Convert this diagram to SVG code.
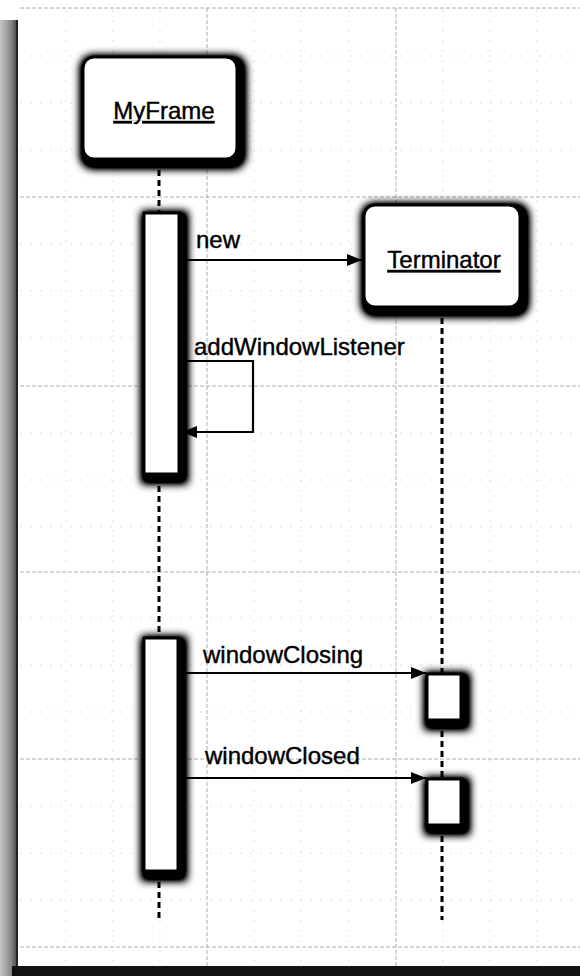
<svg xmlns="http://www.w3.org/2000/svg" width="580" height="976" viewBox="0 0 580 976">
<defs>
<style>
.major{stroke:#8c8c8c;stroke-width:1;stroke-dasharray:4 2;fill:none;opacity:.7}
.minor{stroke:#d6d6d6;stroke-width:1;stroke-dasharray:2 8;fill:none;opacity:.8}
.box{fill:#fff;stroke:#000;stroke-width:3}
.life{stroke:#000;stroke-width:3;stroke-dasharray:6 4;fill:none}
.msg{stroke:#000;stroke-width:2.2;fill:none}
.lbl{font-family:"Liberation Sans",Arial,Helvetica,sans-serif;font-size:24px;fill:#000;stroke:#000;stroke-width:0.4}
.obj{text-decoration:underline}
</style>
<filter id="sh" x="-80%" y="-40%" width="260%" height="180%">
<feMorphology in="SourceAlpha" operator="dilate" radius="4" result="d"/>
<feOffset in="d" dx="3" dy="4" result="o"/>
<feGaussianBlur in="o" stdDeviation="4" result="b"/>
<feComponentTransfer in="b" result="c"><feFuncA type="linear" slope="1.7"/></feComponentTransfer>
<feMerge><feMergeNode in="c"/><feMergeNode in="SourceGraphic"/></feMerge>
</filter>
<linearGradient id="edge" x1="0" y1="0" x2="1" y2="0">
<stop offset="0" stop-color="#c4c4c4"/>
<stop offset="0.6" stop-color="#8a8a8a"/>
<stop offset="1" stop-color="#3a3a3a"/>
</linearGradient>
<marker id="ah" markerUnits="userSpaceOnUse" markerWidth="16" markerHeight="12" refX="15" refY="6" orient="auto">
<path d="M0,0 L15,6 L0,12 z" fill="#000"/>
</marker>
</defs>
<rect width="580" height="976" fill="#fff"/>
<g id="grid">
<path class="minor" d="M254,10V966M301,10V966M349,10V966M443,10V966M490,10V966M537,10V966M66,10V966M113,10V966M160,10V966M20,56H580M20,103H580M20,150H580M20,244H580M20,291H580M20,338H580M20,433H580M20,480H580M20,527H580M20,618H580M20,665H580M20,712H580M20,806H580M20,853H580M20,900H580"/>
<path class="major" d="M207,8V966M396,8V966M20,8H580M20,197H580M20,386H580M20,572H580M20,759H580M20,947H580"/>
</g>
<g id="frame">
<rect x="0" y="20" width="18" height="956" fill="url(#edge)"/>
<rect x="16" y="20" width="2" height="950" fill="#222"/>
<rect x="12" y="966" width="568" height="10" fill="#111"/>
</g>
<g id="lifelines">
<path class="life" d="M159,160V213M159,476V638M159,872V920"/>
<path class="life" d="M442,308V674M442,721V779M442,826V920"/>
</g>
<g id="MyFrame">
<rect class="box" x="83" y="57" width="154" height="102" rx="11" filter="url(#sh)"/>
<text class="lbl obj" x="164" y="119" text-anchor="middle">MyFrame</text>
</g>
<g id="Terminator">
<rect class="box" x="364" y="205" width="156" height="102" rx="11" filter="url(#sh)"/>
<text class="lbl obj" x="444" y="268" text-anchor="middle">Terminator</text>
</g>
<g id="MyFrame-activation1">
<rect class="box" x="144" y="213" width="35" height="261" filter="url(#sh)"/>
</g>
<g id="MyFrame-activation2">
<rect class="box" x="144" y="638" width="34" height="233" filter="url(#sh)"/>
</g>
<g id="Terminator-activation1">
<rect class="box" x="427" y="674" width="34" height="46" filter="url(#sh)"/>
</g>
<g id="Terminator-activation2">
<rect class="box" x="427" y="779" width="34" height="46" filter="url(#sh)"/>
</g>
<g id="connectors">
<line class="msg" x1="180" y1="260" x2="362" y2="260" marker-end="url(#ah)"/>
<path class="msg" d="M180,361H253V432H182" marker-end="url(#ah)"/>
<line class="msg" x1="179" y1="673" x2="426" y2="673" marker-end="url(#ah)"/>
<line class="msg" x1="179" y1="778" x2="426" y2="778" marker-end="url(#ah)"/>
</g>
<g id="labels">
<text class="lbl" x="196" y="248">new</text>
<text class="lbl" x="194" y="355">addWindowListener</text>
<text class="lbl" x="203" y="663">windowClosing</text>
<text class="lbl" x="205" y="764">windowClosed</text>
</g>
</svg>
